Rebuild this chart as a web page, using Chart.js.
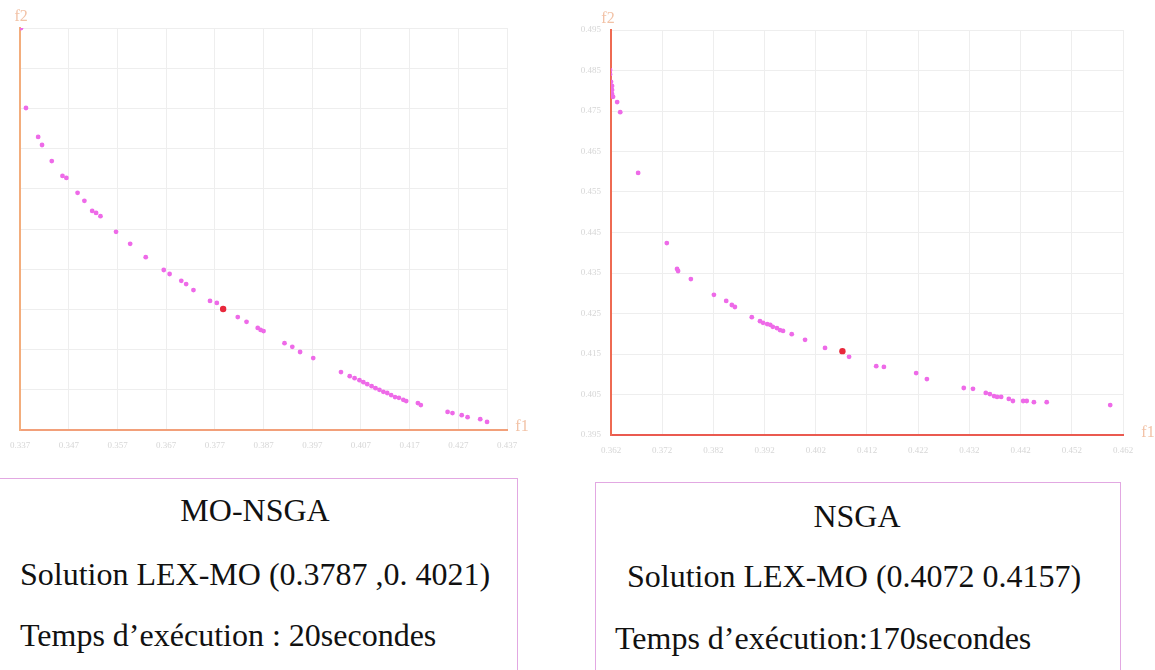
<!DOCTYPE html>
<html>
<head>
<meta charset="utf-8">
<script src="https://cdn.jsdelivr.net/npm/chart.js@4"></script>
<style>
  html, body { margin: 0; padding: 0; background: #fff; }
  body { width: 1155px; height: 670px; position: relative; overflow: hidden; font-family: "Liberation Serif", "DejaVu Serif", serif; }
  canvas { position: absolute; }
  #leftChart { left: 0; top: 0; }
  #rightChart { left: 560px; top: 0; }
  .box { position: absolute; border: 1.5px solid #e2a8e2; border-bottom: none; box-sizing: border-box; color: #111; font-size: 32px; }
  .box div { position: absolute; white-space: nowrap; line-height: 1; }
  #leftBox { left: 0; top: 478px; width: 518px; height: 200px; border-left: none; }
  #rightBox { left: 595px; top: 482px; width: 526px; height: 200px; }
</style>
</head>
<body>
<canvas id="leftChart" width="540" height="460"></canvas>
<canvas id="rightChart" width="595" height="465"></canvas>

<div class="box" id="leftBox">
  <div style="left:0;width:510px;text-align:center;top:15px;">MO-NSGA</div>
  <div style="left:20px;top:79px;">Solution LEX-MO (0.3787 ,0. 4021)</div>
  <div style="left:20px;top:140px;">Temps d’exécution : 20secondes</div>
</div>
<div class="box" id="rightBox">
  <div style="left:0;width:522px;text-align:center;top:17px;">NSGA</div>
  <div style="left:31px;top:77px;">Solution LEX-MO (0.4072 0.4157)</div>
  <div style="left:19px;top:139px;">Temps d’exécution:170secondes</div>
</div>

<script>
// MO-NSGA front (f1, f2)
const leftF1 = [0.3372, 0.3382, 0.3407, 0.3415, 0.3435, 0.3457, 0.3465, 0.3488, 0.3502, 0.3518,
  0.3526, 0.3535, 0.3567, 0.3596, 0.3628, 0.3665, 0.3677, 0.3701, 0.3711, 0.3726,
  0.3760, 0.3774, 0.3817, 0.3835, 0.3858, 0.3864, 0.3870, 0.3913, 0.3929, 0.3945,
  0.3972, 0.4029, 0.4047, 0.4057, 0.4067, 0.4075, 0.4083, 0.4092, 0.4100, 0.4108,
  0.4116, 0.4124, 0.4132, 0.4140, 0.4148, 0.4157, 0.4163, 0.4187, 0.4193, 0.4248,
  0.4258, 0.4277, 0.4289, 0.4315, 0.4329];
const leftF2 = [0.4720, 0.4521, 0.4449, 0.4429, 0.4389, 0.4352, 0.4347, 0.4310, 0.4290, 0.4265,
  0.4260, 0.4252, 0.4213, 0.4183, 0.4150, 0.4118, 0.4108, 0.4091, 0.4083, 0.4068,
  0.4041, 0.4036, 0.4001, 0.3989, 0.3974, 0.3969, 0.3966, 0.3936, 0.3927, 0.3914,
  0.3899, 0.3864, 0.3854, 0.3849, 0.3844, 0.3839, 0.3834, 0.3829, 0.3824, 0.3820,
  0.3815, 0.3812, 0.3807, 0.3802, 0.3800, 0.3795, 0.3792, 0.3787, 0.3782, 0.3765,
  0.3762, 0.3757, 0.3752, 0.3747, 0.3740];
const leftLexMo = [0.3787, 0.4021];
const leftXTicks = [0.337, 0.347, 0.357, 0.367, 0.377, 0.387, 0.397, 0.407, 0.417, 0.427, 0.437];
const leftYTicks = [0.372, 0.382, 0.392, 0.402, 0.412, 0.422, 0.432, 0.442, 0.452, 0.462, 0.472];

// NSGA front (f1, f2)
const rightF1 = [0.3618, 0.3618, 0.3616, 0.3620, 0.3622, 0.3622, 0.3622, 0.3624, 0.3632, 0.3638,
  0.3673, 0.3729, 0.3749, 0.3751, 0.3776, 0.3821, 0.3845, 0.3856, 0.3862, 0.3895,
  0.3911, 0.3917, 0.3925, 0.3931, 0.3936, 0.3944, 0.3950, 0.3956, 0.3973, 0.3999,
  0.4038, 0.4085, 0.4138, 0.4153, 0.4216, 0.4237, 0.4309, 0.4327, 0.4352, 0.4360,
  0.4368, 0.4374, 0.4382, 0.4397, 0.4405, 0.4425, 0.4432, 0.4446, 0.4471, 0.4595];
const rightF2 = [0.4851, 0.4841, 0.4831, 0.4822, 0.4812, 0.4802, 0.4792, 0.4785, 0.4772, 0.4747,
  0.4597, 0.4424, 0.4360, 0.4355, 0.4335, 0.4296, 0.4281, 0.4271, 0.4266, 0.4241,
  0.4231, 0.4227, 0.4224, 0.4222, 0.4217, 0.4214, 0.4209, 0.4207, 0.4199, 0.4185,
  0.4165, 0.4143, 0.4120, 0.4118, 0.4103, 0.4088, 0.4066, 0.4064, 0.4054, 0.4051,
  0.4046, 0.4044, 0.4044, 0.4039, 0.4034, 0.4034, 0.4034, 0.4031, 0.4031, 0.4024];
const rightLexMo = [0.4072, 0.4157];
const rightXTicks = [0.362, 0.372, 0.382, 0.392, 0.402, 0.412, 0.422, 0.432, 0.442, 0.452, 0.462];
const rightYTicks = [0.395, 0.405, 0.415, 0.425, 0.435, 0.445, 0.455, 0.465, 0.475, 0.485, 0.495];

const POINT = '#ee6ae8';
const LEX = '#e8283c';
const GRID = '#eeeeee';
const TICK = '#d6d6d6';
const AXIS_NAME = '#f2c2a6';

// f1 / f2 names next to the axis ends
function axisNamesPlugin(o) {
  return {
    id: 'axisNames',
    afterDraw(chart) {
      const { ctx, chartArea } = chart;
      ctx.save();
      ctx.fillStyle = AXIS_NAME;
      ctx.font = '16px "Liberation Serif", serif';
      ctx.textAlign = 'center';
      ctx.textBaseline = 'middle';
      ctx.fillText('f2', chartArea.left + o.f2dx, chartArea.top + o.f2dy);
      ctx.fillText('f1', chartArea.right + o.f1dx, chartArea.bottom + o.f1dy);
      ctx.restore();
    },
  };
}

function makeChart(id, f1, f2, lex, xTicks, yTicks, o) {
  const pts = f1.map((x, i) => ({ x, y: f2[i] }));
  const fixTicks = (vals) => (scale) => { scale.ticks = vals.map((v) => ({ value: v })); };
  return new Chart(document.getElementById(id), {
    type: 'scatter',
    data: {
      datasets: [
        { data: [{ x: lex[0], y: lex[1] }], backgroundColor: LEX, borderColor: LEX, pointRadius: 3.2, borderWidth: 0 },
        { data: pts, backgroundColor: POINT, borderColor: POINT, pointRadius: 2.4, borderWidth: 0 },
      ],
    },
    plugins: [axisNamesPlugin(o)],
    options: {
      responsive: false,
      animation: false,
      layout: { padding: { top: o.top, right: o.right, left: 0, bottom: 0 } },
      plugins: { legend: { display: false }, tooltip: { enabled: false } },
      scales: {
        x: {
          type: 'linear',
          min: xTicks[0],
          max: xTicks[xTicks.length - 1],
          afterBuildTicks: fixTicks(xTicks),
          afterFit: (s) => { s.height = 30; },
          grid: { color: GRID, tickLength: 0, lineWidth: 1 },
          border: { color: o.xAxis, width: 2 },
          ticks: { color: TICK, font: { size: 9, family: 'Liberation Serif' }, padding: 10, autoSkip: false, maxRotation: 0,
            callback: (v) => v.toFixed(3) },
        },
        y: {
          type: 'linear',
          min: yTicks[0],
          max: yTicks[yTicks.length - 1],
          afterBuildTicks: fixTicks(yTicks),
          afterFit: (s) => { s.width = o.yWidth; },
          grid: { color: GRID, tickLength: 0, lineWidth: 1 },
          border: { color: o.yAxis, width: 2 },
          ticks: { display: o.yLabels, color: TICK, font: { size: 9, family: 'Liberation Serif' }, padding: 10, autoSkip: false,
            callback: (v) => v.toFixed(3) },
        },
      },
    },
  });
}

makeChart('leftChart', leftF1, leftF2, leftLexMo, leftXTicks, leftYTicks,
  { top: 28, right: 33, yWidth: 15, yLabels: false, xAxis: '#f2a07a', yAxis: '#f3ad7c', f2dx: 1, f2dy: -11, f1dx: 15, f1dy: -3 });
makeChart('rightChart', rightF1, rightF2, rightLexMo, rightXTicks, rightYTicks,
  { top: 30, right: 32, yWidth: 51, yLabels: true, xAxis: '#ea5a50', yAxis: '#ee6a52', f2dx: -3, f2dy: -11, f1dx: 25, f1dy: -2 });
</script>
</body>
</html>
